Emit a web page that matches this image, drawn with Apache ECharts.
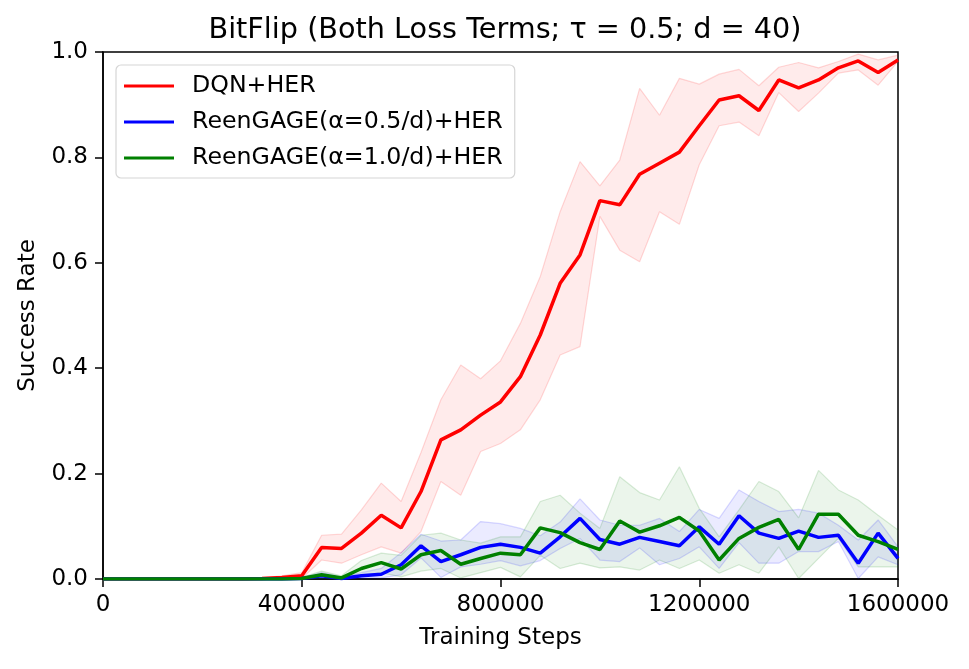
<!DOCTYPE html>
<html>
<head>
<meta charset="utf-8">
<script src="https://cdn.jsdelivr.net/npm/echarts@6/dist/echarts.min.js"></script>
<style>
    html, body { margin: 0; padding: 0; background: #fff; }
    #main { width: 969px; height: 669px; }
</style>
</head>
<body>
<div id="main"></div>
<script type="text/javascript">
    // training steps, every 40000
    var steps = [0, 40000, 80000, 120000, 160000, 200000, 240000, 280000, 320000, 360000,
        400000, 440000, 480000, 520000, 560000, 600000, 640000, 680000, 720000, 760000,
        800000, 840000, 880000, 920000, 960000, 1000000, 1040000, 1080000, 1120000, 1160000,
        1200000, 1240000, 1280000, 1320000, 1360000, 1400000, 1440000, 1480000, 1520000, 1560000,
        1600000];

    var names = ['DQN+HER', 'ReenGAGE(α=0.5/d)+HER', 'ReenGAGE(α=1.0/d)+HER'];
    var yTicks = ['0.0', '0.2', '0.4', '0.6', '0.8', '1.0'];

    var dqn = [0, 0, 0, 0, 0, 0, 0, 0, 0.001, 0.003, 0.006, 0.060, 0.058, 0.087, 0.121, 0.097, 0.166, 0.264, 0.283, 0.311,
        0.336, 0.384, 0.463, 0.561, 0.615, 0.718, 0.710, 0.768, 0.789, 0.810, 0.860, 0.909, 0.917, 0.889, 0.947, 0.932,
        0.947, 0.970, 0.983, 0.961, 0.985];
    var dqnUpper = [0, 0, 0, 0, 0, 0, 0, 0, 0.002, 0.006, 0.012, 0.083, 0.085, 0.131, 0.182, 0.147, 0.240, 0.340, 0.406, 0.380,
        0.414, 0.485, 0.574, 0.697, 0.792, 0.746, 0.795, 0.931, 0.880, 0.950, 0.939, 0.958, 0.967, 0.936, 0.971, 0.980,
        0.970, 0.982, 0.996, 0.985, 0.994];
    var dqnLower = [0, 0, 0, 0, 0, 0, 0, 0, 0, 0.001, 0.001, 0.036, 0.030, 0.046, 0.061, 0.049, 0.090, 0.185, 0.159, 0.242,
        0.257, 0.283, 0.340, 0.425, 0.441, 0.688, 0.624, 0.602, 0.697, 0.673, 0.786, 0.860, 0.867, 0.841, 0.923, 0.887,
        0.922, 0.960, 0.966, 0.937, 0.982];

    var half = [0, 0, 0, 0, 0, 0, 0, 0, 0, 0, 0.001, 0.006, 0.001, 0.006, 0.009, 0.027, 0.063, 0.033, 0.046, 0.060,
        0.066, 0.060, 0.049, 0.080, 0.115, 0.075, 0.066, 0.079, 0.071, 0.063, 0.099, 0.066, 0.120, 0.087, 0.077, 0.091,
        0.079, 0.083, 0.030, 0.087, 0.039];
    var halfUpper = [0, 0, 0, 0, 0, 0, 0, 0, 0, 0, 0.003, 0.012, 0.004, 0.012, 0.020, 0.050, 0.085, 0.072, 0.074, 0.109,
        0.105, 0.096, 0.082, 0.108, 0.152, 0.112, 0.102, 0.102, 0.115, 0.090, 0.132, 0.115, 0.169, 0.147, 0.128, 0.132,
        0.125, 0.102, 0.074, 0.112, 0.061];
    var halfLower = [0, 0, 0, 0, 0, 0, 0, 0, 0, 0, 0, 0.001, 0, 0.001, 0.002, 0.008, 0.040, 0.003, 0.023, 0.028,
        0.035, 0.025, 0.035, 0.058, 0.077, 0.036, 0.033, 0.059, 0.027, 0.039, 0.061, 0.020, 0.069, 0.030, 0.030, 0.052,
        0.052, 0.071, 0.001, 0.042, 0.027];

    var one = [0, 0, 0, 0, 0, 0, 0, 0, 0, 0, 0.001, 0.008, 0.002, 0.020, 0.031, 0.019, 0.046, 0.054, 0.028, 0.039,
        0.049, 0.046, 0.097, 0.088, 0.069, 0.056, 0.110, 0.089, 0.101, 0.117, 0.091, 0.036, 0.077, 0.098, 0.113, 0.056,
        0.123, 0.123, 0.083, 0.071, 0.056];
    var oneUpper = [0, 0, 0, 0, 0, 0, 0, 0, 0, 0, 0.003, 0.015, 0.006, 0.035, 0.049, 0.045, 0.083, 0.087, 0.074, 0.068,
        0.080, 0.080, 0.147, 0.159, 0.125, 0.096, 0.194, 0.164, 0.150, 0.213, 0.134, 0.080, 0.131, 0.185, 0.166, 0.116,
        0.206, 0.169, 0.150, 0.121, 0.093];
    var oneLower = [0, 0, 0, 0, 0, 0, 0, 0, 0, 0, 0, 0.001, 0, 0.006, 0.012, 0.004, 0.015, 0.020, 0.002, 0.012,
        0.022, 0.004, 0.045, 0.020, 0.030, 0.021, 0.023, 0.017, 0.036, 0.020, 0.036, 0.011, 0.027, 0.011, 0.061, 0.001,
        0.039, 0.077, 0.023, 0.023, 0.023];

    var font = 'DejaVu Sans';

    // 阴影带: 下沿 + (上沿-下沿) 堆叠
    function band(key, lower, upper, rgb) {
        var edge = 'rgba(' + rgb + ',0.15)';
        return [
            {
                name: key + '_lo',
                type: 'line',
                stack: key,
                data: lower,
                symbol: 'none',
                silent: true,
                z: 1,
                lineStyle: { width: 1.2, color: edge }
            },
            {
                name: key + '_hi',
                type: 'line',
                stack: key,
                data: upper.map(function (v, i) { return +(v - lower[i]).toFixed(4); }),
                symbol: 'none',
                silent: true,
                z: 1,
                lineStyle: { width: 1.2, color: edge },
                areaStyle: { color: 'rgba(' + rgb + ',0.11)', origin: 'start' }
            }
        ];
    }

    function line(name, data, color) {
        return {
            name: name,
            type: 'line',
            data: data,
            symbol: 'none',
            z: 3,
            color: color,
            lineStyle: { width: 3.5, color: color }
        };
    }

    var myChart = echarts.init(document.getElementById('main'));
    var option = {
        animation: false,
        backgroundColor: '#fff',
        textStyle: { fontFamily: font },
        title: {
            text: 'BitFlip (Both Loss Terms; τ = 0.5; d = 40)',
            left: 500,
            top: 11,
            textAlign: 'center',
            textStyle: { fontFamily: font, fontSize: 28.7, fontWeight: 'normal', color: '#000' }
        },
        grid: {
            left: 103,
            right: 71,
            top: 52,
            bottom: 90,
            show: true,
            borderColor: '#000',
            borderWidth: 1.5,
            backgroundColor: 'transparent'
        },
        legend: {
            data: names,
            orient: 'vertical',
            left: 116,
            top: 65,
            padding: [9, 12, 8, 8],
            itemGap: 12,
            itemWidth: 50,
            itemHeight: 3,
            icon: 'rect',
            backgroundColor: '#fff',
            borderColor: '#d6d6d6',
            borderWidth: 1.2,
            borderRadius: 5,
            textStyle: { fontFamily: font, fontSize: 23.7, lineHeight: 23, color: '#000', padding: [0, 0, 0, 13] }
        },
        xAxis: {
            type: 'category',
            data: steps,
            boundaryGap: false,
            name: 'Training Steps',
            nameLocation: 'middle',
            nameGap: 48,
            nameTextStyle: { fontFamily: font, fontSize: 23, color: '#000' },
            axisLine: { lineStyle: { color: '#000', width: 1.5 } },
            axisTick: { inside: false, length: 8, interval: 9, lineStyle: { color: '#000', width: 1.5 } },
            axisLabel: { interval: 9, margin: 15, fontFamily: font, fontSize: 23, color: '#000' },
            splitLine: { show: false }
        },
        yAxis: {
            type: 'value',
            min: 0,
            max: 1,
            interval: 0.2,
            name: 'Success Rate',
            nameLocation: 'middle',
            nameGap: 63,
            nameTextStyle: { fontFamily: font, fontSize: 23, color: '#000' },
            axisLine: { show: true, lineStyle: { color: '#000', width: 1.5 } },
            axisTick: { show: true, inside: false, length: 8, lineStyle: { color: '#000', width: 1.5 } },
            axisLabel: {
                margin: 15, fontFamily: font, fontSize: 23, color: '#000',
                formatter: function (v) { return yTicks[Math.round(v / 0.2)]; }
            },
            splitLine: { show: false }
        },
        series: [].concat(
            band('r', dqnLower, dqnUpper, '255,0,0'),
            band('b', halfLower, halfUpper, '0,0,255'),
            band('g', oneLower, oneUpper, '0,128,0'),
            [
                line(names[0], dqn, '#ff0000'),
                line(names[1], half, '#0000ff'),
                line(names[2], one, '#008000')
            ]
        )
    };

    // 为echarts对象加载数据
    myChart.setOption(option);
</script>
</body>
</html>
